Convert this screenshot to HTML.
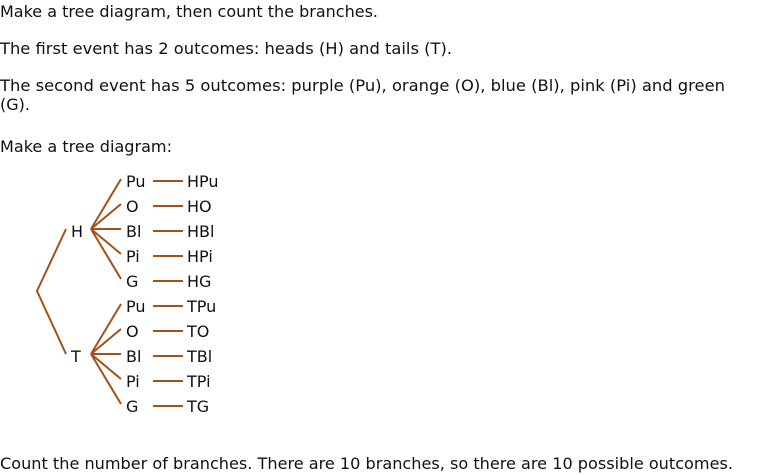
<!DOCTYPE html>
<html><head><style>body{margin:0;background:#fff}svg{display:block}</style></head>
<body>
<svg width="760" height="475" xmlns="http://www.w3.org/2000/svg" font-family="DejaVu Sans, Verdana, sans-serif" font-size="16" fill="#111">
<text x="0" y="17" textLength="378" lengthAdjust="spacingAndGlyphs">Make a tree diagram, then count the branches.</text>
<text x="0" y="54" textLength="452" lengthAdjust="spacingAndGlyphs">The first event has 2 outcomes: heads (H) and tails (T).</text>
<text x="0" y="91" textLength="725" lengthAdjust="spacingAndGlyphs">The second event has 5 outcomes: purple (Pu), orange (O), blue (Bl), pink (Pi) and green</text>
<text x="0" y="110">(G).</text>
<text x="0" y="152" textLength="172" lengthAdjust="spacingAndGlyphs">Make a tree diagram:</text>
<text x="0" y="469" textLength="733" lengthAdjust="spacingAndGlyphs">Count the number of branches. There are 10 branches, so there are 10 possible outcomes.</text>
<g stroke="#a0521a" stroke-width="2" fill="none">
<path d="M66 229 L37 291 L66 354"/>
<path d="M91 229 L121 179 M91 229 L121 204 M91 229 L121 229 M91 229 L121 254 M91 229 L121 279"/>
<path d="M91 354 L121 304 M91 354 L121 329 M91 354 L121 354 M91 354 L121 379 M91 354 L121 404"/>
<path d="M153 181 H183 M153 206 H183 M153 231 H183 M153 256 H183 M153 281 H183 M153 306 H183 M153 331 H183 M153 356 H183 M153 381 H183 M153 406 H183"/>
</g>
<text x="71" y="237">H</text>
<text x="71" y="362">T</text>
<g>
<text x="126" y="187">Pu</text><text x="126" y="212">O</text><text x="126" y="237">Bl</text><text x="126" y="262">Pi</text><text x="126" y="287">G</text>
<text x="126" y="312">Pu</text><text x="126" y="337">O</text><text x="126" y="362">Bl</text><text x="126" y="387">Pi</text><text x="126" y="412">G</text>
<text x="187" y="187">HPu</text><text x="187" y="212">HO</text><text x="187" y="237">HBl</text><text x="187" y="262">HPi</text><text x="187" y="287">HG</text>
<text x="187" y="312">TPu</text><text x="187" y="337">TO</text><text x="187" y="362">TBl</text><text x="187" y="387">TPi</text><text x="187" y="412">TG</text>
</g>
</svg>
</body></html>
